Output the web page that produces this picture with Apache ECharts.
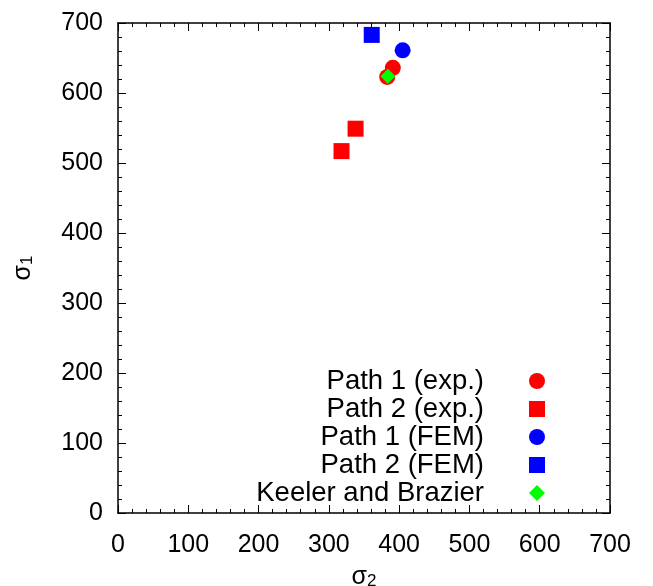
<!DOCTYPE html>
<html>
<head>
<meta charset="utf-8">
<script src="https://cdn.jsdelivr.net/npm/echarts@6/dist/echarts.min.js"></script>
<style>
  html, body { margin: 0; padding: 0; background: #fff; }
  #chart { width: 653px; height: 586px; }
</style>
</head>
<body>
<div id="chart"></div>
<script>
// sigma_2, sigma_1 pairs
const path1Exp = [[391, 636], [383, 623]]
const path2Exp = [[338, 549], [318, 517]]
const path1Fem = [[405, 661]]
const path2Fem = [[361, 683]]
const keelerBrazier = [[384, 624]]
const axisTicks = [0, 100, 200, 300, 400, 500, 600, 700]

const font = 'Liberation Sans'
const chart = echarts.init(document.getElementById('chart'))

function axisBase (show, margin) {
  return {
    type: 'value',
    min: axisTicks[0],
    max: axisTicks[axisTicks.length - 1],
    interval: 100,
    axisLine: { show: true, onZero: false, lineStyle: { color: '#000', width: 1.5 } },
    axisTick: { show: true, inside: true, length: 8, lineStyle: { color: '#000', width: 1 } },
    minorTick: { show: true, splitNumber: 5, length: 4, lineStyle: { color: '#000', width: 1 } },
    splitLine: { show: false },
    axisLabel: {
      show: show,
      color: '#000',
      fontFamily: font,
      fontSize: 25,
      margin: margin
    }
  }
}

const nameRich = {
  s: { fontFamily: font, fontSize: 25, color: '#000', verticalAlign: 'top', lineHeight: 25 },
  b: { fontFamily: font, fontSize: 17, color: '#000', verticalAlign: 'bottom', lineHeight: 17, padding: [10, 0, 0, 0] }
}

const option = {
  animation: false,
  backgroundColor: '#fff',
  grid: { left: 118, right: 43, top: 23, bottom: 73, containLabel: false, outerBoundsMode: 'none' },
  legend: {
    orient: 'vertical',
    align: 'right',
    right: 103,
    top: 362,
    itemGap: 0,
    itemWidth: 16,
    itemHeight: 16,
    textStyle: { fontFamily: font, fontSize: 27.5, color: '#000', padding: [0, 40, 0, 0] },
    data: [
      { name: 'Path 1 (exp.)', icon: 'circle' },
      { name: 'Path 2 (exp.)', icon: 'rect' },
      { name: 'Path 1 (FEM)', icon: 'circle' },
      { name: 'Path 2 (FEM)', icon: 'rect' },
      { name: 'Keeler and Brazier', icon: 'diamond' }
    ]
  },
  xAxis: [
    Object.assign(axisBase(true, 20), {
      position: 'bottom',
      name: '{s|σ}{b|2}',
      nameLocation: 'middle',
      nameGap: 38,
      nameTextStyle: { rich: nameRich }
    }),
    Object.assign(axisBase(false, 8), { position: 'top' })
  ],
  yAxis: [
    Object.assign(axisBase(true, 15), {
      position: 'left',
      name: '{s|σ}{b|1}',
      nameLocation: 'middle',
      nameGap: 82,
      nameTextStyle: { rich: nameRich }
    }),
    Object.assign(axisBase(false, 8), { position: 'right' })
  ],
  series: [
    {
      name: 'Path 1 (exp.)',
      type: 'scatter',
      symbol: 'circle',
      symbolSize: 16,
      itemStyle: { color: '#ff0000', opacity: 1 },
      data: path1Exp
    },
    {
      name: 'Path 2 (exp.)',
      type: 'scatter',
      symbol: 'rect',
      symbolSize: 16,
      itemStyle: { color: '#ff0000', opacity: 1 },
      data: path2Exp
    },
    {
      name: 'Path 1 (FEM)',
      type: 'scatter',
      symbol: 'circle',
      symbolSize: 16,
      itemStyle: { color: '#0000ff', opacity: 1 },
      data: path1Fem
    },
    {
      name: 'Path 2 (FEM)',
      type: 'scatter',
      symbol: 'rect',
      symbolSize: 16,
      itemStyle: { color: '#0000ff', opacity: 1 },
      data: path2Fem
    },
    {
      name: 'Keeler and Brazier',
      type: 'scatter',
      symbol: 'diamond',
      symbolSize: 15,
      itemStyle: { color: '#00ff00', opacity: 1 },
      data: keelerBrazier
    }
  ]
}

chart.setOption(option)
window.addEventListener('resize', function () {
  chart.resize()
})
</script>
</body>
</html>
